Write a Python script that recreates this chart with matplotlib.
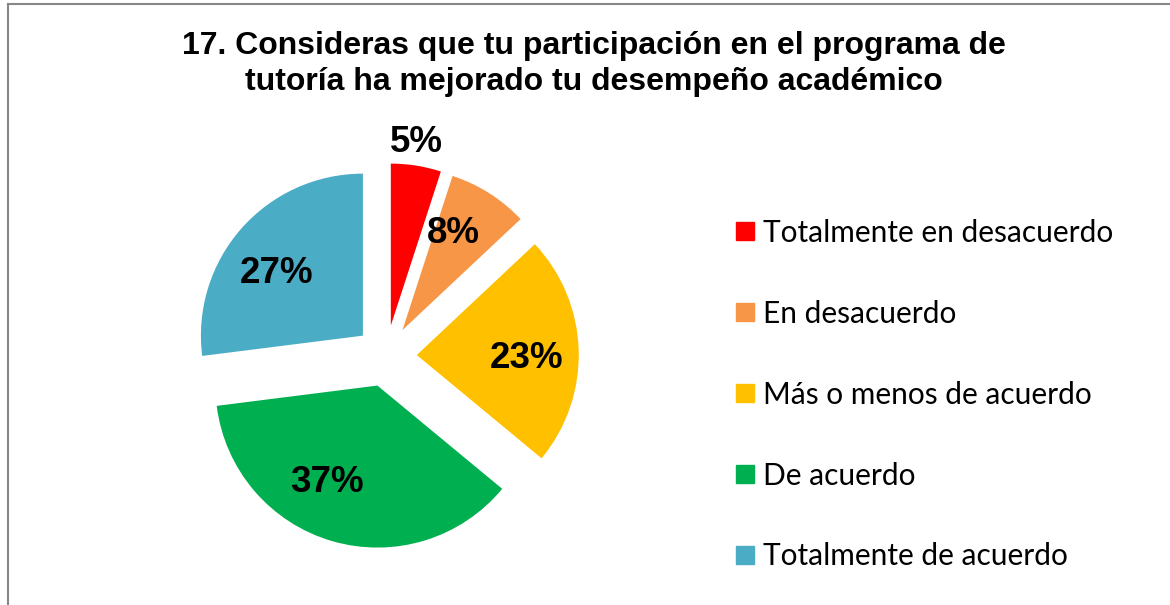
import numpy as np
import matplotlib
matplotlib.use("Agg")
import matplotlib.pyplot as plt
from matplotlib.lines import Line2D
from matplotlib.transforms import offset_copy

categorias = ["Totalmente en desacuerdo", "En desacuerdo", "Más o menos de acuerdo",
              "De acuerdo", "Totalmente de acuerdo"]
porcentajes = [5, 8, 23, 37, 27]
colores = ["#FF0000", "#F79646", "#FFC000", "#00B050", "#4BACC6"]
titulo = "17. Consideras que tu participación en el programa de\ntutoría ha mejorado tu desempeño académico"

# label placement: (distance from slice centre, angle tweak in degrees)
pos_etiquetas = [(1.15, 1), (0.68, 5), (0.68, -3), (0.665, -12), (0.665, 5)]

W, H = 1170, 605
fig = plt.figure(figsize=(W / 100, H / 100), dpi=100)

# pie axes: centre (386, 356) px, radius 162 px
r_px = 162
lim = 1.5
size = 2 * lim * r_px
cx, cy = 386, H - 356
ax = fig.add_axes([(cx - size / 2) / W, (cy - size / 2) / H, size / W, size / H])

wedges, texts, autotexts = ax.pie(
    porcentajes, colors=colores, startangle=90, counterclock=False,
    explode=[0.19] * len(porcentajes), autopct="%1.0f%%", pctdistance=0.68,
    textprops=dict(fontsize=26.5, fontweight="bold", family="Liberation Sans", color="black"))
ax.set_xlim(-lim, lim)
ax.set_ylim(-lim, lim)
ax.set_aspect("equal")
ax.axis("off")

tr = offset_copy(ax.transData, fig=fig, x=0, y=-1.5, units="dots")
for w, t, (d, da) in zip(wedges, autotexts, pos_etiquetas):
    ang = np.deg2rad((w.theta1 + w.theta2) / 2 + da)
    t.set_position((w.center[0] + d * np.cos(ang), w.center[1] + d * np.sin(ang)))
    t.set_transform(tr)

fig.text(594 / W, 1 - 64 / H, titulo, ha="center", va="center", fontsize=23,
         fontweight="bold", family="Liberation Sans", linespacing=1.27)

handles = [Line2D([], [], marker="s", linestyle="none", markersize=12.5,
                  markerfacecolor=c, markeredgecolor=c) for c in colores]
leg = fig.legend(handles, categorias, loc="upper left", bbox_to_anchor=(723 / W, 1 - 207 / H),
                 frameon=False, prop=dict(family="Lato", size=21.5), labelspacing=1.77,
                 handlelength=0.7, handletextpad=0.25, borderaxespad=0)

# gray frame (left and top only visible)
fig.add_artist(Line2D([8 / W, 8 / W], [0, 1 - 4 / H], color="#878787", lw=1.5))
fig.add_artist(Line2D([8 / W, 1], [1 - 4 / H, 1 - 4 / H], color="#878787", lw=1.5))

fig.savefig("out.png", dpi=100, facecolor="white")
